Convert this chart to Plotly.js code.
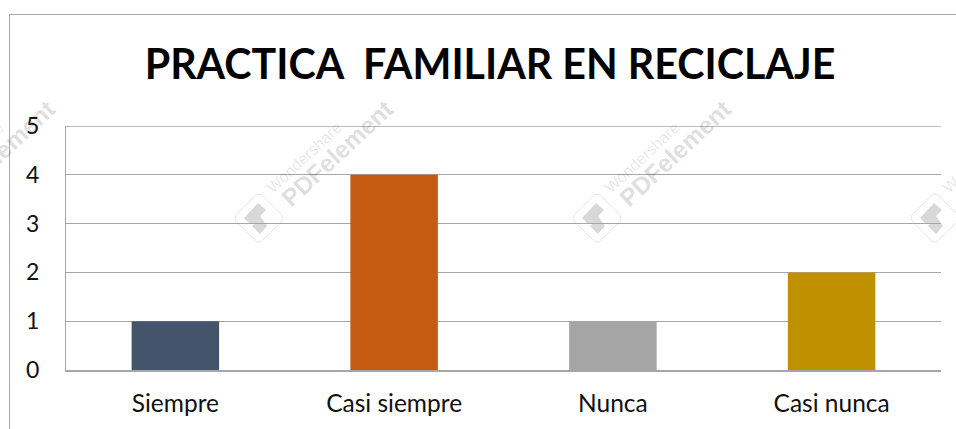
<!DOCTYPE html>
<html>
<head>
<meta charset="utf-8">
<script src="https://cdn.plot.ly/plotly-3.0.1.min.js"></script>
<style>html,body{margin:0;padding:0;background:#fff}#chart{width:956px;height:429px}</style>
</head>
<body>
<div id="chart"></div>
<script>
const categories = ["Siempre", "Casi siempre", "Nunca", "Casi nunca"];
const values = [1, 4, 1, 2];
const barColors = ["#44546a", "#c55a11", "#a5a5a5", "#bf9000"];
const titleText = "PRACTICA  FAMILIAR EN RECICLAJE";
const yTicks = [0, 1, 2, 3, 4, 5];
const watermarkCentersX = [-79, 259, 597, 935];
const W = 956, H = 429;

const L = 66, R = 15, T = 126, B = 59;
const pw = W - L - R, ph = H - T - B;
const px = x => (x - L) / pw;
const py = y => 1 - (y - T) / ph;
const P = (x, y) => `${px(x)} ${py(y)}`;

const annotations = [];
const shapes = [
  {type:"line", xref:"paper", yref:"paper", x0:px(9.5), x1:px(956), y0:py(14.5), y1:py(14.5), line:{color:"#a9a9a9", width:1}},
  {type:"line", xref:"paper", yref:"paper", x0:px(9.5), x1:px(9.5), y0:py(14.5), y1:py(429), line:{color:"#a9a9a9", width:1}},
  {type:"line", xref:"paper", yref:"y", x0:0, x1:1, y0:yTicks[yTicks.length-1], y1:yTicks[yTicks.length-1], line:{color:"#a9a9a9", width:1.5}}
];

watermarkCentersX.forEach(cx => {
  const cy = 218, d = 26, r = 4;
  shapes.push({type:"path", xref:"paper", yref:"paper", layer:"below",
    path:`M ${P(cx-d+r,cy-r)} L ${P(cx-r,cy-d+r)} Q ${P(cx,cy-d)} ${P(cx+r,cy-d+r)} L ${P(cx+d-r,cy-r)} Q ${P(cx+d,cy)} ${P(cx+d-r,cy+r)} L ${P(cx+r,cy+d-r)} Q ${P(cx,cy+d)} ${P(cx-r,cy+d-r)} L ${P(cx-d+r,cy+r)} Q ${P(cx-d,cy)} ${P(cx-d+r,cy-r)} Z`,
    line:{color:"#e4e4e4", width:1}, fillcolor:"rgba(255,255,255,0)"});
  shapes.push({type:"path", xref:"paper", yref:"paper", layer:"below",
    path:`M ${P(cx-15,cy)} L ${P(cx-1,cy-15)} L ${P(cx+7,cy-8)} L ${P(cx+1,cy-2)} L ${P(cx+8,cy+8)} L ${P(cx+1,cy+16)} L ${P(cx-7,cy+8)} L ${P(cx-4,cy+5)} L ${P(cx-9,cy+6)} Z`,
    line:{width:0}, fillcolor:"#d8d8d8"});
  annotations.push({xref:"paper", yref:"paper", x:px(cx+78), y:py(153), xanchor:"center", yanchor:"middle",
    text:"<b>PDFelement</b>", showarrow:false, textangle:-43,
    font:{family:"Liberation Sans, Arial, sans-serif", size:24.5, color:"rgba(0,0,0,0.15)"}});
  annotations.push({xref:"paper", yref:"paper", x:px(cx+45), y:py(157), xanchor:"center", yanchor:"middle",
    text:"Wondershare", showarrow:false, textangle:-43,
    font:{family:"Liberation Sans, Arial, sans-serif", size:16, color:"rgba(0,0,0,0.11)"}});
});

const trace = {
  type:"bar", x:categories, y:values,
  marker:{color:barColors, line:{width:0}},
  width:0.4, hoverinfo:"skip"
};
const layout = {
  width:W, height:H, autosize:false,
  paper_bgcolor:"rgba(0,0,0,0)", plot_bgcolor:"rgba(0,0,0,0)",
  margin:{l:L, r:R, t:T, b:B, pad:0},
  showlegend:false,
  title:{text:titleText, x:490/W, xanchor:"center", y:1-65/H, yanchor:"middle",
    font:{family:"Lato, Carlito, sans-serif", size:41.2, color:"#000", weight:700}},
  xaxis:{type:"category", range:[-0.5,3.5], showgrid:false, showline:true, linecolor:"#a6a6a6", linewidth:1.5,
    ticks:"", ticklabelstandoff:11, tickfont:{family:"Lato, Carlito, sans-serif", size:24.5, color:"#111"}, fixedrange:true, zeroline:false, automargin:false},
  yaxis:{range:[0,5], tickvals:yTicks, ticktext:yTicks.map(String), showgrid:true, gridcolor:"#a6a6a6", gridwidth:1,
    showline:true, linecolor:"#a6a6a6", linewidth:1, ticks:"", ticklen:0, zeroline:false, ticklabelstandoff:21,
    tickfont:{family:"Lato, Carlito, sans-serif", size:23, color:"#111"}, fixedrange:true, automargin:false},
  shapes, annotations
};
Plotly.newPlot("chart", [trace], layout, {displayModeBar:false, staticPlot:true});
</script>
</body>
</html>
